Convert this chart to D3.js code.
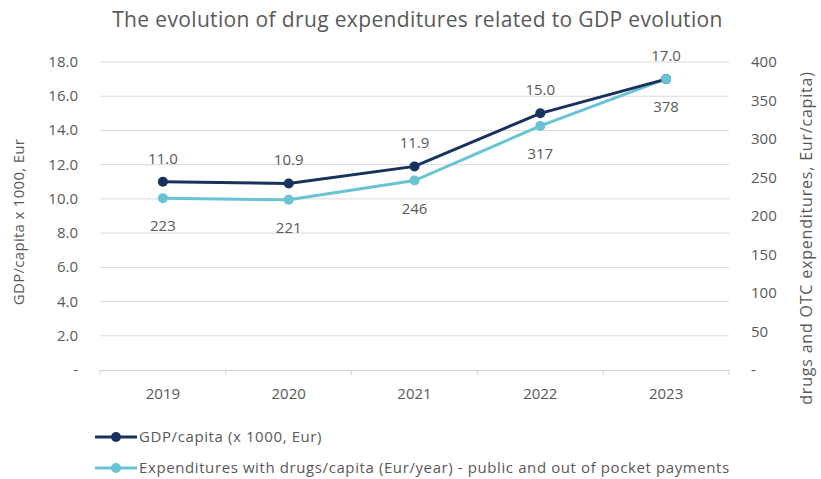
<!DOCTYPE html>
<html>
<head>
<meta charset="utf-8">
<script src="https://cdn.jsdelivr.net/npm/d3@7"></script>
<style>
  body { margin: 0; background: #fff; }
  text { font-family: "Open Sans", sans-serif; fill: #595959; }
</style>
</head>
<body>
<div id="chart"></div>
<script>
// Data
const years = ["2019", "2020", "2021", "2022", "2023"];
const gdpValues = [11.0, 10.9, 11.9, 15.0, 17.0];
const drugValues = [223, 221, 246, 317, 378];
const leftTicks = [0, 2, 4, 6, 8, 10, 12, 14, 16, 18];
const rightTicks = [0, 50, 100, 150, 200, 250, 300, 350, 400];

const width = 821, height = 479;
const margin = { top: 62, right: 92, bottom: 109, left: 100 };
const plotW = width - margin.left - margin.right;
const plotH = height - margin.top - margin.bottom;

const navy = "#17325c";
const teal = "#68c3d4";

const svg = d3.select("#chart").append("svg")
    .attr("width", width)
    .attr("height", height);

// Title
svg.append("text")
    .attr("x", width / 2 + 7)
    .attr("y", 27)
    .attr("text-anchor", "middle")
    .style("font-size", "21px")
    .style("letter-spacing", "0.35px")
    .text("The evolution of drug expenditures related to GDP evolution");

const g = svg.append("g")
    .attr("transform", `translate(${margin.left},${margin.top})`);

// Scales
const x = d3.scaleBand().domain(years).range([0, plotW]);
const yLeft = d3.scaleLinear().domain([0, 18]).range([plotH, 0]);
const yRight = d3.scaleLinear().domain([0, 400]).range([plotH, 0]);

// Gridlines
g.selectAll(".grid")
    .data(leftTicks.slice(1))
    .enter().append("line")
    .attr("x1", 0).attr("x2", plotW)
    .attr("y1", d => yLeft(d)).attr("y2", d => yLeft(d))
    .attr("stroke", "#d9d9d9")
    .attr("stroke-width", 1);

// Left axis labels
g.selectAll(".ltick")
    .data(leftTicks)
    .enter().append("text")
    .attr("x", -22)
    .attr("y", d => yLeft(d) + 5)
    .attr("text-anchor", "end")
    .style("font-size", "15px")
    .text(d => d === 0 ? "-" : d.toFixed(1));

// Right axis labels
g.selectAll(".rtick")
    .data(rightTicks)
    .enter().append("text")
    .attr("x", plotW + 22)
    .attr("y", d => yRight(d) + 5)
    .attr("text-anchor", "start")
    .style("font-size", "15px")
    .text(d => d === 0 ? "-" : d);

// X axis
const xAxis = g.append("g")
    .attr("transform", `translate(0,${plotH})`)
    .call(d3.axisBottom(x).tickSize(0).tickPadding(18));
xAxis.select(".domain").attr("stroke", "#d0d0d0");
xAxis.selectAll("text")
    .style("font-size", "15px")
    .style("font-family", "'Open Sans', sans-serif")
    .attr("fill", "#595959");

// Tick marks at band edges
const edges = years.map(d => x(d)).concat([plotW]);
g.selectAll(".xtick")
    .data(edges)
    .enter().append("line")
    .attr("x1", d => d).attr("x2", d => d)
    .attr("y1", plotH).attr("y2", plotH + 5)
    .attr("stroke", "#d0d0d0");

// Axis titles
svg.append("text")
    .attr("transform", `translate(24,${margin.top + plotH / 2 + 6}) rotate(-90)`)
    .attr("text-anchor", "middle")
    .style("font-size", "15px")
    .style("letter-spacing", "0.3px")
    .text("GDP/capita x 1000, Eur");

svg.append("text")
    .attr("transform", `translate(812,238) rotate(-90)`)
    .attr("text-anchor", "middle")
    .style("font-size", "16px")
    .style("letter-spacing", "0.8px")
    .text("drugs and OTC expenditures, Eur/capita)");

const cx = d => x(d) + x.bandwidth() / 2;

// Drug expenditure series (right axis)
const drugData = years.map((d, i) => ({ year: d, value: drugValues[i] }));
const gdpData = years.map((d, i) => ({ year: d, value: gdpValues[i] }));

g.append("path")
    .datum(drugData)
    .attr("fill", "none")
    .attr("stroke", teal)
    .attr("stroke-width", 3)
    .attr("d", d3.line().x(d => cx(d.year)).y(d => yRight(d.value)));

g.append("path")
    .datum(gdpData)
    .attr("fill", "none")
    .attr("stroke", navy)
    .attr("stroke-width", 3)
    .attr("d", d3.line().x(d => cx(d.year)).y(d => yLeft(d.value)));

g.selectAll(".gdpDot")
    .data(gdpData)
    .enter().append("circle")
    .attr("cx", d => cx(d.year))
    .attr("cy", d => yLeft(d.value))
    .attr("r", 5)
    .attr("fill", navy);

g.selectAll(".drugDot")
    .data(drugData)
    .enter().append("circle")
    .attr("cx", d => cx(d.year))
    .attr("cy", d => yRight(d.value))
    .attr("r", 5)
    .attr("fill", teal);

// Data labels
g.selectAll(".gdpLabel")
    .data(gdpData)
    .enter().append("text")
    .attr("x", d => cx(d.year))
    .attr("y", d => yLeft(d.value) - 18)
    .attr("text-anchor", "middle")
    .style("font-size", "15px")
    .text(d => d.value.toFixed(1));

g.selectAll(".drugLabel")
    .data(drugData)
    .enter().append("text")
    .attr("x", d => cx(d.year))
    .attr("y", d => yRight(d.value) + 33)
    .attr("text-anchor", "middle")
    .style("font-size", "15px")
    .text(d => d.value);

// Legend
const legendItems = [
    { label: "GDP/capita (x 1000, Eur)", color: navy },
    { label: "Expenditures with drugs/capita (Eur/year) - public and out of pocket payments", color: teal }
];
const legend = svg.selectAll(".legend")
    .data(legendItems)
    .enter().append("g")
    .attr("transform", (d, i) => `translate(95,${437 + i * 31})`);
legend.append("line")
    .attr("x1", 0).attr("x2", 42)
    .attr("stroke", d => d.color)
    .attr("stroke-width", 3);
legend.append("circle")
    .attr("cx", 21).attr("r", 5)
    .attr("fill", d => d.color);
legend.append("text")
    .attr("x", 44)
    .attr("y", 5)
    .style("font-size", "15px")
    .style("letter-spacing", "0.6px")
    .text(d => d.label);
</script>
</body>
</html>
